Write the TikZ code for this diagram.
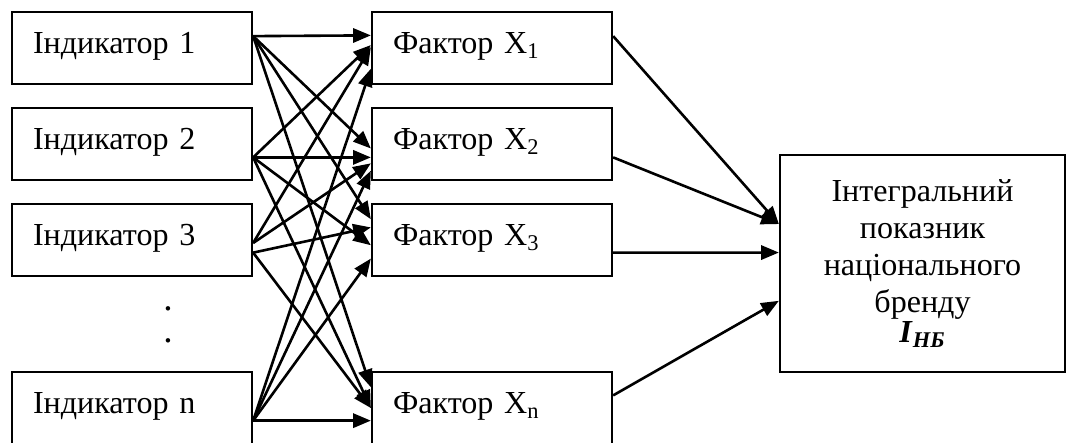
\documentclass[tikz,border=0pt]{standalone}
\usepackage{fontspec}
\setmainfont{Liberation Serif}
\usetikzlibrary{arrows.meta,calc}
\begin{document}
\begin{tikzpicture}[x=0.48pt,y=-0.48pt,
  box/.style={draw,line width=1.1pt,minimum width=115.2pt,minimum height=34.56pt,
    inner xsep=10pt,inner ysep=0pt,text width=95pt,align=left,
    text height=10.5pt,text depth=5pt,font=\fontsize{15.4}{18}\selectfont},
  big/.style={draw,line width=1.1pt,minimum width=136.8pt,minimum height=104.2pt,
    align=center,font=\fontsize{15.4}{17.8}\selectfont},
  arr/.style={line width=1.25pt,-{Triangle[length=8.5pt,width=6.8pt]}},
  dotlabel/.style={font=\fontsize{18}{14.9}\selectfont,inner sep=0pt,anchor=base,
    align=center}]
\useasboundingbox (0,0) rectangle (1067,442);
\clip (0,0) rectangle (1067,442);

% indicator boxes
\node[box] (i1) at (132,48)  {Індикатор 1};
\node[box] (i2) at (132,144) {Індикатор 2};
\node[box] (i3) at (132,240) {Індикатор 3};
\node[box] (in) at (132,408) {Індикатор n};
\node[dotlabel] (dots) at (168,342) {.\\.};

% factor boxes
\node[box] (f1) at (492,48)  {Фактор X\textsubscript{1}};
\node[box] (f2) at (492,144) {Фактор X\textsubscript{2}};
\node[box] (f3) at (492,240) {Фактор X\textsubscript{3}};
\node[box] (fn) at (492,408) {Фактор X\textsubscript{n}};

% result box
\node[big] (r) at (922.5,263.5) {Інтегральний\\показник\\національного\\бренду\\[-3.5pt]\textbf{\textit{I}}\textsubscript{\textbf{\textit{НБ}}}};

% sources
\coordinate (s1) at ($(i1.north east)!0.34!(i1.south east)$);
\coordinate (s2) at ($(i2.north east)!0.68!(i2.south east)$);
\coordinate (s3a) at ($(i3.north east)!0.54!(i3.south east)$);
\coordinate (s3) at ($(i3.north east)!0.67!(i3.south east)$);
\coordinate (sn) at ($(in.north east)!0.67!(in.south east)$);

% indicator -> factor
\draw[arr] (s1) -- ($(f1.north west)!0.33!(f1.south west)$);
\draw[arr] (s1) -- ($(f2.north west)!0.56!(f2.south west)$);
\draw[arr] (s1) -- ($(f3.north west)!0.22!(f3.south west)$);
\draw[arr] (s1) -- ($(fn.north west)!0.22!(fn.south west)$);

\draw[arr] (s2) -- ($(f1.north west)!0.46!(f1.south west)$);
\draw[arr] (s2) -- ($(f2.north west)!0.68!(f2.south west)$);
\draw[arr] (s2) -- ($(f3.north west)!0.57!(f3.south west)$);
\draw[arr] (s2) -- ($(fn.north west)!0.5!(fn.south west)$);

\draw[arr] (s3a) -- ($(f1.north west)!0.49!(f1.south west)$);
\draw[arr] (s3a) -- ($(f2.north west)!0.76!(f2.south west)$);
\draw[arr] (s3) -- ($(f3.north west)!0.33!(f3.south west)$);
\draw[arr] (s3) -- ($(fn.north west)!0.5!(fn.south west)$);

\draw[arr] (sn) -- ($(f1.north west)!0.78!(f1.south west)$);
\draw[arr] (sn) -- ($(f2.north west)!0.86!(f2.south west)$);
\draw[arr] (sn) -- ($(f3.north west)!0.75!(f3.south west)$);
\draw[arr] (sn) -- ($(fn.north west)!0.67!(fn.south west)$);

% factor -> result
\draw[arr] ($(f1.north east)!0.34!(f1.south east)$) -- ($(r.north west)!0.32!(r.south west)$);
\draw[arr] ($(f2.north east)!0.68!(f2.south east)$) -- ($(r.north west)!0.32!(r.south west)$);
\draw[arr] ($(f3.north east)!0.67!(f3.south east)$) -- ($(r.north west)!0.45!(r.south west)$);
\draw[arr] ($(fn.north east)!0.33!(fn.south east)$) -- ($(r.north west)!0.67!(r.south west)$);
\end{tikzpicture}
\end{document}
